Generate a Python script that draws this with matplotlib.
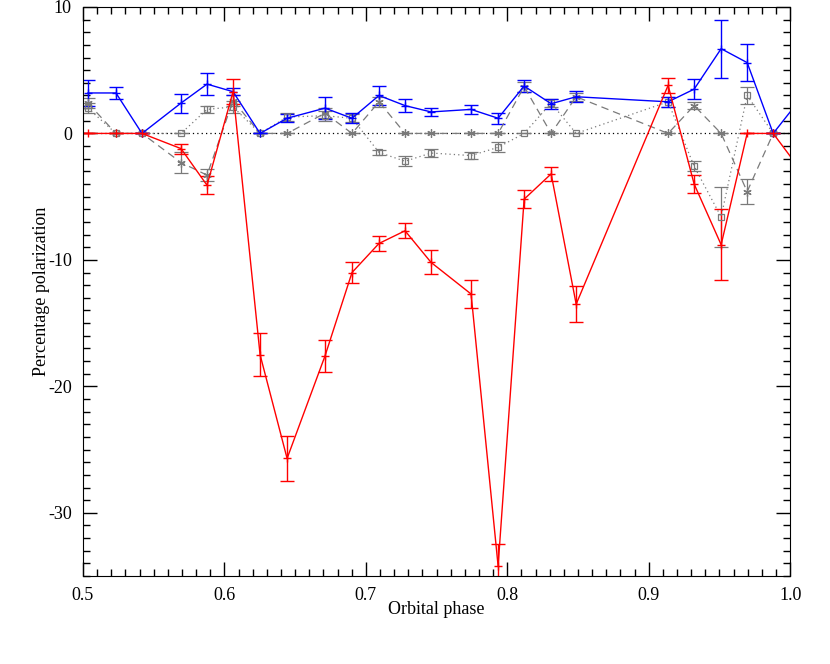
import matplotlib.pyplot as plt
from matplotlib.ticker import MultipleLocator

plt.rcParams['font.family'] = ['Liberation Serif', 'DejaVu Serif']

# orbital phase of each observation
phase = [0.5035, 0.5233, 0.5417, 0.5693, 0.5877, 0.6061, 0.6252, 0.6443,
         0.6711, 0.6902, 0.7093, 0.7277, 0.7461, 0.7744, 0.7935, 0.8119,
         0.8310, 0.8487, 0.9137, 0.9321, 0.9512, 0.9696, 0.9880]

# red series (solid)
red_phase = [0.4855] + phase + [1.006]
red = [0, 0, 0, 0, -1.2, -4.1, 3.3, -17.5, -25.7, -17.6, -11.0, -8.7, -7.7,
       -10.2, -12.7, -34.2, -5.2, -3.2, -13.5, 3.8, -4.0, -8.8, 0, 0, -2.7]
red_err = [0, 0, 0, 0, 0.4, 0.7, 1.0, 1.7, 1.8, 1.3, 0.8, 0.6, 0.6,
           0.95, 1.1, 1.7, 0.7, 0.55, 1.4, 0.6, 0.75, 2.8, 0, 0, 0]

# blue series (solid)
blue_phase = phase + [1.006]
blue = [3.2, 3.2, 0, 2.4, 3.9, 3.3, 0, 1.2, 2.0, 1.2, 3.0, 2.2, 1.7, 1.9,
        1.2, 3.75, 2.35, 2.9, 2.5, 3.5, 6.7, 5.6, 0, 2.55]
blue_err = [1.0, 0.5, 0, 0.75, 0.9, 0.3, 0, 0.3, 0.85, 0.4, 0.75, 0.5, 0.3,
            0.35, 0.45, 0.5, 0.4, 0.45, 0.4, 0.8, 2.3, 1.45, 0, 0]

# grey asterisks (dashed)
star = [2.4, 0, 0, -2.3, -3.3, 2.6, 0, 0, 1.6, 0, 2.5, 0, 0, 0, 0, 3.7,
        0, 2.9, 0, 2.2, 0, -4.6, 0]
star_err = [0.4, 0, 0, 0.8, 0.5, 0.4, 0, 0, 0.4, 0, 0.4, 0, 0, 0, 0, 0.4,
            0, 0.3, 0, 0.3, 0, 1.0, 0]

# grey squares (dotted)
sq = [2.0, 0, 0, 0, 1.9, 2.1, 0, 1.3, 1.4, 1.2, -1.5, -2.2, -1.55, -1.75,
      -1.1, 0, 2.4, 0, 2.5, -2.6, -6.6, 3.0, 0]
sq_err = [0.4, 0, 0, 0, 0.3, 0.5, 0, 0.3, 0.4, 0.3, 0.2, 0.4, 0.3, 0.3,
          0.4, 0, 0.3, 0, 0.4, 0.4, 2.35, 0.7, 0]

xticks = [0.5, 0.6, 0.7, 0.8, 0.9, 1.0]
yticks = [-30, -20, -10, 0, 10]

grey = '#7a7a7a'

fig = plt.figure(figsize=(8.3, 6.64), dpi=100)
ax = fig.add_axes([0.1, 0.1325, 0.852, 0.857])

ax.axhline(0, color='black', lw=0.9, ls=(0, (1, 2.5)))

ax.errorbar(phase, sq, yerr=sq_err, color=grey, ls=(0, (1, 2.5)), lw=0.9,
            marker='s', ms=5, mfc='none', mec=grey, mew=0.9,
            capsize=5, elinewidth=0.9, capthick=0.9)
ax.errorbar(phase, star, yerr=star_err, color=grey, ls=(0, (6, 4)), lw=0.9,
            marker=(6, 2, 0), ms=6, mec=grey, mew=0.9,
            capsize=5, elinewidth=0.9, capthick=0.9)
ax.errorbar(blue_phase, blue, yerr=blue_err, color='blue', lw=1.0,
            marker='+', ms=6, mew=1.0,
            capsize=5, elinewidth=1.0, capthick=1.0)
ax.errorbar(red_phase, red, yerr=red_err, color='red', lw=1.0,
            marker='+', ms=6, mew=1.0,
            capsize=5, elinewidth=1.0, capthick=1.0)

ax.set_xlim(0.5, 1.0)
ax.set_ylim(-35, 10)
ax.set_xticks(xticks)
ax.set_xticklabels([f'{t:.1f}' for t in xticks])
ax.set_yticks(yticks)
ax.set_yticklabels([str(t) for t in yticks])
ax.xaxis.set_minor_locator(MultipleLocator(0.01))
ax.yaxis.set_minor_locator(MultipleLocator(1))
ax.tick_params(which='both', direction='in', top=True, right=True,
               labelsize=13, width=1)
ax.tick_params(which='major', length=10, pad=8)
ax.tick_params(which='minor', length=5)

ax.set_xlabel('Orbital phase', fontsize=13, labelpad=-2)
ax.set_ylabel('Percentage polarization', fontsize=13, labelpad=-1.5)

fig.savefig('out.png', dpi=100)
